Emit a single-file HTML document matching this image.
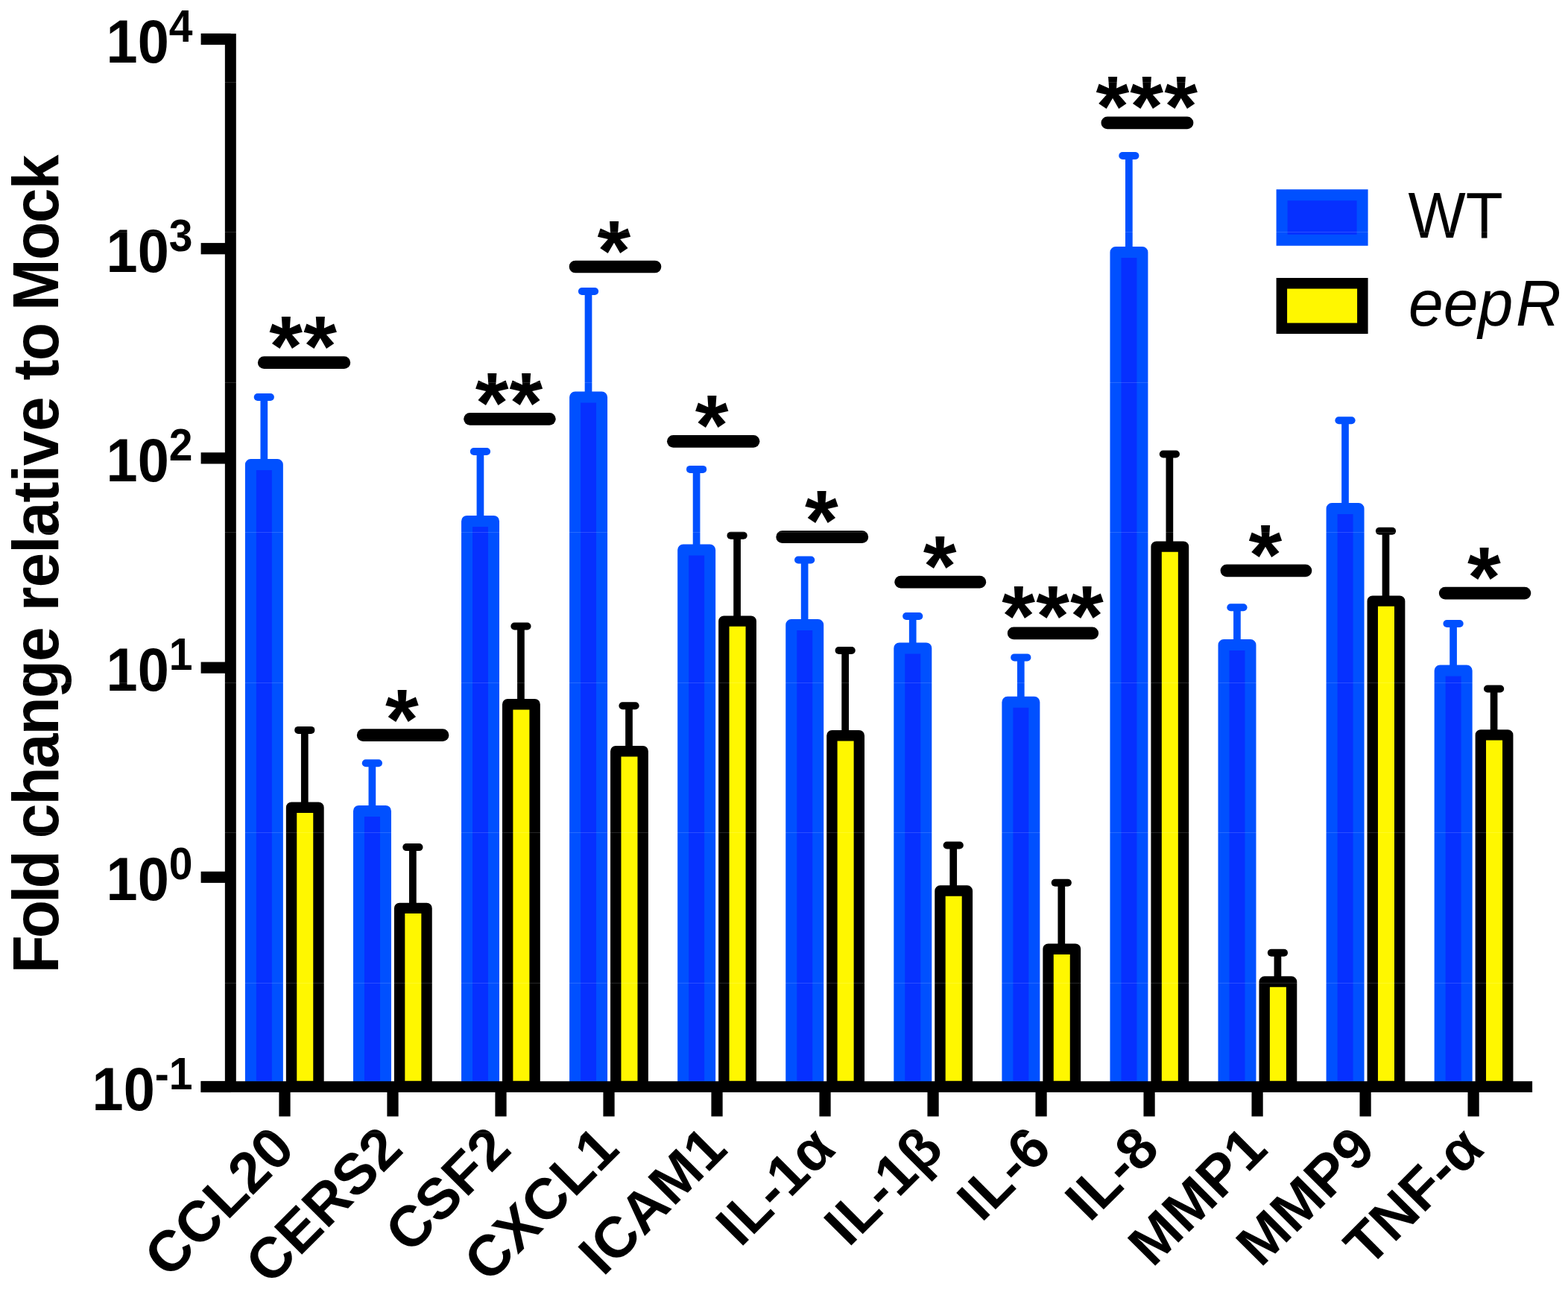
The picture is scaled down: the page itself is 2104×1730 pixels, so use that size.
<!DOCTYPE html><html><head><meta charset="utf-8"><title>Fold change relative to Mock</title>
<style>html,body{margin:0;padding:0;background:#fff;overflow:hidden;}svg{display:block;}#w{width:2104px;height:1730px;}text{font-family:"Liberation Sans",sans-serif;}</style></head><body>
<div id="w"><svg width="2104" height="1730" viewBox="0 0 2104 1730">
<rect width="2104" height="1730" fill="#fff"/>
<line x1="354.30" y1="618.00" x2="354.30" y2="533.00" stroke="#0050ff" stroke-width="9.7"/>
<line x1="345.70" y1="533.00" x2="362.90" y2="533.00" stroke="#0050ff" stroke-width="10.0" stroke-linecap="round"/>
<rect x="336.40" y="623.50" width="35.96" height="834.50" fill="#0630ff" stroke="#0050ff" stroke-width="15.0" stroke-linejoin="round"/>
<line x1="408.80" y1="1078.50" x2="408.80" y2="979.90" stroke="#000" stroke-width="9.7"/>
<line x1="400.20" y1="979.90" x2="417.40" y2="979.90" stroke="#000" stroke-width="10.0" stroke-linecap="round"/>
<rect x="391.05" y="1083.70" width="36.42" height="374.30" fill="#fff700" stroke="#000" stroke-width="14.4" stroke-linejoin="round"/>
<line x1="354.25" y1="486.70" x2="461.85" y2="486.70" stroke="#000" stroke-width="16.7" stroke-linecap="round"/>
<text x="383.65" y="504.12" font-size="115" font-weight="bold" text-anchor="middle">*</text>
<text x="429.55" y="504.12" font-size="115" font-weight="bold" text-anchor="middle">*</text>
<line x1="499.37" y1="1082.90" x2="499.37" y2="1024.20" stroke="#0050ff" stroke-width="9.7"/>
<line x1="490.77" y1="1024.20" x2="507.97" y2="1024.20" stroke="#0050ff" stroke-width="10.0" stroke-linecap="round"/>
<rect x="481.47" y="1088.40" width="35.96" height="369.60" fill="#0630ff" stroke="#0050ff" stroke-width="15.0" stroke-linejoin="round"/>
<line x1="553.87" y1="1213.70" x2="553.87" y2="1137.10" stroke="#000" stroke-width="9.7"/>
<line x1="545.27" y1="1137.10" x2="562.47" y2="1137.10" stroke="#000" stroke-width="10.0" stroke-linecap="round"/>
<rect x="536.12" y="1218.90" width="36.42" height="239.10" fill="#fff700" stroke="#000" stroke-width="14.4" stroke-linejoin="round"/>
<line x1="487.15" y1="986.70" x2="594.05" y2="986.70" stroke="#000" stroke-width="16.7" stroke-linecap="round"/>
<text x="539.40" y="1004.52" font-size="115" font-weight="bold" text-anchor="middle">*</text>
<line x1="644.44" y1="693.90" x2="644.44" y2="606.00" stroke="#0050ff" stroke-width="9.7"/>
<line x1="635.84" y1="606.00" x2="653.04" y2="606.00" stroke="#0050ff" stroke-width="10.0" stroke-linecap="round"/>
<rect x="626.54" y="699.40" width="35.96" height="758.60" fill="#0630ff" stroke="#0050ff" stroke-width="15.0" stroke-linejoin="round"/>
<line x1="698.94" y1="940.00" x2="698.94" y2="840.50" stroke="#000" stroke-width="9.7"/>
<line x1="690.34" y1="840.50" x2="707.54" y2="840.50" stroke="#000" stroke-width="10.0" stroke-linecap="round"/>
<rect x="681.19" y="945.20" width="36.42" height="512.80" fill="#fff700" stroke="#000" stroke-width="14.4" stroke-linejoin="round"/>
<line x1="630.55" y1="562.30" x2="737.35" y2="562.30" stroke="#000" stroke-width="16.7" stroke-linecap="round"/>
<text x="660.05" y="579.62" font-size="115" font-weight="bold" text-anchor="middle">*</text>
<text x="705.95" y="579.62" font-size="115" font-weight="bold" text-anchor="middle">*</text>
<line x1="789.51" y1="527.50" x2="789.51" y2="391.00" stroke="#0050ff" stroke-width="9.7"/>
<line x1="780.91" y1="391.00" x2="798.11" y2="391.00" stroke="#0050ff" stroke-width="10.0" stroke-linecap="round"/>
<rect x="771.61" y="533.00" width="35.96" height="925.00" fill="#0630ff" stroke="#0050ff" stroke-width="15.0" stroke-linejoin="round"/>
<line x1="844.01" y1="1003.00" x2="844.01" y2="947.20" stroke="#000" stroke-width="9.7"/>
<line x1="835.41" y1="947.20" x2="852.61" y2="947.20" stroke="#000" stroke-width="10.0" stroke-linecap="round"/>
<rect x="826.26" y="1008.20" width="36.42" height="449.80" fill="#fff700" stroke="#000" stroke-width="14.4" stroke-linejoin="round"/>
<line x1="772.05" y1="358.00" x2="878.95" y2="358.00" stroke="#000" stroke-width="16.7" stroke-linecap="round"/>
<text x="823.90" y="375.62" font-size="115" font-weight="bold" text-anchor="middle">*</text>
<line x1="934.58" y1="732.60" x2="934.58" y2="629.90" stroke="#0050ff" stroke-width="9.7"/>
<line x1="925.98" y1="629.90" x2="943.18" y2="629.90" stroke="#0050ff" stroke-width="10.0" stroke-linecap="round"/>
<rect x="916.68" y="738.10" width="35.96" height="719.90" fill="#0630ff" stroke="#0050ff" stroke-width="15.0" stroke-linejoin="round"/>
<line x1="989.08" y1="828.40" x2="989.08" y2="718.70" stroke="#000" stroke-width="9.7"/>
<line x1="980.48" y1="718.70" x2="997.68" y2="718.70" stroke="#000" stroke-width="10.0" stroke-linecap="round"/>
<rect x="971.33" y="833.60" width="36.42" height="624.40" fill="#fff700" stroke="#000" stroke-width="14.4" stroke-linejoin="round"/>
<line x1="903.35" y1="592.30" x2="1011.05" y2="592.30" stroke="#000" stroke-width="16.7" stroke-linecap="round"/>
<text x="955.20" y="609.92" font-size="115" font-weight="bold" text-anchor="middle">*</text>
<line x1="1079.65" y1="833.10" x2="1079.65" y2="751.50" stroke="#0050ff" stroke-width="9.7"/>
<line x1="1071.05" y1="751.50" x2="1088.25" y2="751.50" stroke="#0050ff" stroke-width="10.0" stroke-linecap="round"/>
<rect x="1061.75" y="838.60" width="35.96" height="619.40" fill="#0630ff" stroke="#0050ff" stroke-width="15.0" stroke-linejoin="round"/>
<line x1="1134.15" y1="982.00" x2="1134.15" y2="873.00" stroke="#000" stroke-width="9.7"/>
<line x1="1125.55" y1="873.00" x2="1142.75" y2="873.00" stroke="#000" stroke-width="10.0" stroke-linecap="round"/>
<rect x="1116.40" y="987.20" width="36.42" height="470.80" fill="#fff700" stroke="#000" stroke-width="14.4" stroke-linejoin="round"/>
<line x1="1049.65" y1="720.70" x2="1156.85" y2="720.70" stroke="#000" stroke-width="16.7" stroke-linecap="round"/>
<text x="1102.50" y="738.12" font-size="115" font-weight="bold" text-anchor="middle">*</text>
<line x1="1224.72" y1="864.40" x2="1224.72" y2="827.00" stroke="#0050ff" stroke-width="9.7"/>
<line x1="1216.12" y1="827.00" x2="1233.32" y2="827.00" stroke="#0050ff" stroke-width="10.0" stroke-linecap="round"/>
<rect x="1206.82" y="869.90" width="35.96" height="588.10" fill="#0630ff" stroke="#0050ff" stroke-width="15.0" stroke-linejoin="round"/>
<line x1="1279.22" y1="1190.30" x2="1279.22" y2="1134.50" stroke="#000" stroke-width="9.7"/>
<line x1="1270.62" y1="1134.50" x2="1287.82" y2="1134.50" stroke="#000" stroke-width="10.0" stroke-linecap="round"/>
<rect x="1261.47" y="1195.50" width="36.42" height="262.50" fill="#fff700" stroke="#000" stroke-width="14.4" stroke-linejoin="round"/>
<line x1="1208.65" y1="781.20" x2="1314.85" y2="781.20" stroke="#000" stroke-width="16.7" stroke-linecap="round"/>
<text x="1261.20" y="798.72" font-size="115" font-weight="bold" text-anchor="middle">*</text>
<line x1="1369.79" y1="936.80" x2="1369.79" y2="882.40" stroke="#0050ff" stroke-width="9.7"/>
<line x1="1361.19" y1="882.40" x2="1378.39" y2="882.40" stroke="#0050ff" stroke-width="10.0" stroke-linecap="round"/>
<rect x="1351.89" y="942.30" width="35.96" height="515.70" fill="#0630ff" stroke="#0050ff" stroke-width="15.0" stroke-linejoin="round"/>
<line x1="1424.29" y1="1268.50" x2="1424.29" y2="1184.80" stroke="#000" stroke-width="9.7"/>
<line x1="1415.69" y1="1184.80" x2="1432.89" y2="1184.80" stroke="#000" stroke-width="10.0" stroke-linecap="round"/>
<rect x="1406.54" y="1273.70" width="36.42" height="184.30" fill="#fff700" stroke="#000" stroke-width="14.4" stroke-linejoin="round"/>
<line x1="1360.15" y1="849.90" x2="1465.75" y2="849.90" stroke="#000" stroke-width="16.7" stroke-linecap="round"/>
<text x="1366.70" y="866.42" font-size="115" font-weight="bold" text-anchor="middle">*</text>
<text x="1412.60" y="866.42" font-size="115" font-weight="bold" text-anchor="middle">*</text>
<text x="1458.50" y="866.42" font-size="115" font-weight="bold" text-anchor="middle">*</text>
<line x1="1514.86" y1="333.10" x2="1514.86" y2="209.00" stroke="#0050ff" stroke-width="9.7"/>
<line x1="1506.26" y1="209.00" x2="1523.46" y2="209.00" stroke="#0050ff" stroke-width="10.0" stroke-linecap="round"/>
<rect x="1496.96" y="338.60" width="35.96" height="1119.40" fill="#0630ff" stroke="#0050ff" stroke-width="15.0" stroke-linejoin="round"/>
<line x1="1569.36" y1="728.40" x2="1569.36" y2="609.50" stroke="#000" stroke-width="9.7"/>
<line x1="1560.76" y1="609.50" x2="1577.96" y2="609.50" stroke="#000" stroke-width="10.0" stroke-linecap="round"/>
<rect x="1551.61" y="733.60" width="36.42" height="724.40" fill="#fff700" stroke="#000" stroke-width="14.4" stroke-linejoin="round"/>
<line x1="1485.85" y1="164.90" x2="1593.05" y2="164.90" stroke="#000" stroke-width="16.7" stroke-linecap="round"/>
<text x="1492.80" y="182.42" font-size="115" font-weight="bold" text-anchor="middle">*</text>
<text x="1538.70" y="182.42" font-size="115" font-weight="bold" text-anchor="middle">*</text>
<text x="1584.60" y="182.42" font-size="115" font-weight="bold" text-anchor="middle">*</text>
<line x1="1659.93" y1="860.00" x2="1659.93" y2="815.20" stroke="#0050ff" stroke-width="9.7"/>
<line x1="1651.33" y1="815.20" x2="1668.53" y2="815.20" stroke="#0050ff" stroke-width="10.0" stroke-linecap="round"/>
<rect x="1642.03" y="865.50" width="35.96" height="592.50" fill="#0630ff" stroke="#0050ff" stroke-width="15.0" stroke-linejoin="round"/>
<line x1="1714.43" y1="1312.30" x2="1714.43" y2="1278.80" stroke="#000" stroke-width="9.7"/>
<line x1="1705.83" y1="1278.80" x2="1723.03" y2="1278.80" stroke="#000" stroke-width="10.0" stroke-linecap="round"/>
<rect x="1696.68" y="1317.50" width="36.42" height="140.50" fill="#fff700" stroke="#000" stroke-width="14.4" stroke-linejoin="round"/>
<line x1="1645.95" y1="765.90" x2="1751.95" y2="765.90" stroke="#000" stroke-width="16.7" stroke-linecap="round"/>
<text x="1698.00" y="783.52" font-size="115" font-weight="bold" text-anchor="middle">*</text>
<line x1="1805.00" y1="677.10" x2="1805.00" y2="564.20" stroke="#0050ff" stroke-width="9.7"/>
<line x1="1796.40" y1="564.20" x2="1813.60" y2="564.20" stroke="#0050ff" stroke-width="10.0" stroke-linecap="round"/>
<rect x="1787.10" y="682.60" width="35.96" height="775.40" fill="#0630ff" stroke="#0050ff" stroke-width="15.0" stroke-linejoin="round"/>
<line x1="1859.50" y1="801.40" x2="1859.50" y2="712.70" stroke="#000" stroke-width="9.7"/>
<line x1="1850.90" y1="712.70" x2="1868.10" y2="712.70" stroke="#000" stroke-width="10.0" stroke-linecap="round"/>
<rect x="1841.75" y="806.60" width="36.42" height="651.40" fill="#fff700" stroke="#000" stroke-width="14.4" stroke-linejoin="round"/>
<line x1="1950.07" y1="894.50" x2="1950.07" y2="837.00" stroke="#0050ff" stroke-width="9.7"/>
<line x1="1941.47" y1="837.00" x2="1958.67" y2="837.00" stroke="#0050ff" stroke-width="10.0" stroke-linecap="round"/>
<rect x="1932.17" y="900.00" width="35.96" height="558.00" fill="#0630ff" stroke="#0050ff" stroke-width="15.0" stroke-linejoin="round"/>
<line x1="2004.57" y1="981.20" x2="2004.57" y2="924.50" stroke="#000" stroke-width="9.7"/>
<line x1="1995.97" y1="924.50" x2="2013.17" y2="924.50" stroke="#000" stroke-width="10.0" stroke-linecap="round"/>
<rect x="1986.82" y="986.40" width="36.42" height="471.60" fill="#fff700" stroke="#000" stroke-width="14.4" stroke-linejoin="round"/>
<line x1="1939.15" y1="796.10" x2="2045.95" y2="796.10" stroke="#000" stroke-width="16.7" stroke-linecap="round"/>
<text x="1991.40" y="813.62" font-size="115" font-weight="bold" text-anchor="middle">*</text>
<rect x="301.85" y="45.2" width="14.95" height="1420.8" fill="#000"/>
<rect x="269.6" y="1451.2" width="1786.5" height="14.8" fill="#000"/>
<rect x="269.6" y="44.90" width="40" height="15.2" fill="#000"/>
<rect x="269.6" y="326.10" width="40" height="15.2" fill="#000"/>
<rect x="269.6" y="607.30" width="40" height="15.2" fill="#000"/>
<rect x="269.6" y="888.50" width="40" height="15.2" fill="#000"/>
<rect x="269.6" y="1169.70" width="40" height="15.2" fill="#000"/>
<rect x="269.6" y="1450.90" width="40" height="15.2" fill="#000"/>
<rect x="374.40" y="1458" width="15.2" height="40.4" fill="#000"/>
<rect x="519.41" y="1458" width="15.2" height="40.4" fill="#000"/>
<rect x="664.42" y="1458" width="15.2" height="40.4" fill="#000"/>
<rect x="809.43" y="1458" width="15.2" height="40.4" fill="#000"/>
<rect x="954.44" y="1458" width="15.2" height="40.4" fill="#000"/>
<rect x="1099.45" y="1458" width="15.2" height="40.4" fill="#000"/>
<rect x="1244.46" y="1458" width="15.2" height="40.4" fill="#000"/>
<rect x="1389.47" y="1458" width="15.2" height="40.4" fill="#000"/>
<rect x="1534.48" y="1458" width="15.2" height="40.4" fill="#000"/>
<rect x="1679.49" y="1458" width="15.2" height="40.4" fill="#000"/>
<rect x="1824.50" y="1458" width="15.2" height="40.4" fill="#000"/>
<rect x="1969.51" y="1458" width="15.2" height="40.4" fill="#000"/>
<text transform="translate(258.5,83.50) scale(0.935,1)" font-size="81" font-weight="bold" text-anchor="end">10<tspan font-size="61" dy="-28">4</tspan></text>
<text transform="translate(258.5,364.70) scale(0.935,1)" font-size="81" font-weight="bold" text-anchor="end">10<tspan font-size="61" dy="-28">3</tspan></text>
<text transform="translate(258.5,645.90) scale(0.935,1)" font-size="81" font-weight="bold" text-anchor="end">10<tspan font-size="61" dy="-28">2</tspan></text>
<text transform="translate(258.5,927.10) scale(0.935,1)" font-size="81" font-weight="bold" text-anchor="end">10<tspan font-size="61" dy="-28">1</tspan></text>
<text transform="translate(258.5,1208.30) scale(0.935,1)" font-size="81" font-weight="bold" text-anchor="end">10<tspan font-size="61" dy="-28">0</tspan></text>
<text transform="translate(258.5,1489.50) scale(0.935,1)" font-size="81" font-weight="bold" text-anchor="end">10<tspan font-size="61" dy="-28">-1</tspan></text>
<g font-size="88" font-weight="bold">
<text transform="translate(77.6,1300.9) rotate(-90) scale(0.955,1)" x="-5.89" y="0" textLength="173.05" lengthAdjust="spacing">Fold</text>
<text transform="translate(77.6,1122.0) rotate(-90) scale(0.955,1)" x="-3.44" y="0" textLength="297.45" lengthAdjust="spacing">change</text>
<text transform="translate(77.6,814.7) rotate(-90) scale(0.955,1)" x="-5.80" y="0" textLength="301.48" lengthAdjust="spacing">relative</text>
<text transform="translate(77.6,509.5) rotate(-90) scale(0.955,1)" x="-1.07" y="0" textLength="81.16" lengthAdjust="spacing">to</text>
<text transform="translate(77.6,411.6) rotate(-90) scale(0.955,1)" x="-5.89" y="0" textLength="219.62" lengthAdjust="spacing">Mock</text>
</g>
<text transform="translate(398.60,1545.20) rotate(-45)" font-size="77" font-weight="bold" text-anchor="end">CCL20</text>
<text transform="translate(543.63,1545.20) rotate(-45)" font-size="77" font-weight="bold" text-anchor="end">CERS2</text>
<text transform="translate(688.66,1545.20) rotate(-45)" font-size="77" font-weight="bold" text-anchor="end">CSF2</text>
<text transform="translate(833.69,1545.20) rotate(-45)" font-size="77" font-weight="bold" text-anchor="end">CXCL1</text>
<text transform="translate(978.72,1545.20) rotate(-45)" font-size="77" font-weight="bold" text-anchor="end">ICAM1</text>
<text transform="translate(1123.75,1545.20) rotate(-45)" font-size="77" font-weight="bold" text-anchor="end">IL-1α</text>
<text transform="translate(1268.78,1545.20) rotate(-45)" font-size="77" font-weight="bold" text-anchor="end">IL-1β</text>
<text transform="translate(1413.81,1545.20) rotate(-45)" font-size="77" font-weight="bold" text-anchor="end">IL-6</text>
<text transform="translate(1558.84,1545.20) rotate(-45)" font-size="77" font-weight="bold" text-anchor="end">IL-8</text>
<text transform="translate(1703.87,1545.20) rotate(-45)" font-size="77" font-weight="bold" text-anchor="end">MMP1</text>
<text transform="translate(1848.90,1545.20) rotate(-45)" font-size="77" font-weight="bold" text-anchor="end">MMP9</text>
<text transform="translate(1993.93,1545.20) rotate(-45)" font-size="77" font-weight="bold" text-anchor="end">TNF-α</text>
<rect x="1720.1" y="261.7" width="108" height="60.599999999999994" fill="#0630ff" stroke="#0050ff" stroke-width="15"/>
<rect x="1719.85" y="380.25" width="108.5" height="60.5" fill="#fff700" stroke="#000" stroke-width="14.5"/>
<text transform="translate(1889.4,318.9) scale(0.93,1)" font-size="88">WT</text>
<text transform="translate(1890,437) scale(0.955,1)" font-size="88" font-style="italic">eep<tspan dx="4">R</tspan></text>
<rect x="0" y="110" width="2104" height="1" fill="#fff" fill-opacity="0.15"/>
<rect x="0" y="311" width="2104" height="1" fill="#fff" fill-opacity="0.15"/>
<rect x="0" y="513" width="2104" height="1" fill="#fff" fill-opacity="0.15"/>
<rect x="0" y="714" width="2104" height="1" fill="#fff" fill-opacity="0.15"/>
<rect x="0" y="916" width="2104" height="1" fill="#fff" fill-opacity="0.15"/>
<rect x="0" y="1117" width="2104" height="1" fill="#fff" fill-opacity="0.15"/>
<rect x="0" y="1319" width="2104" height="1" fill="#fff" fill-opacity="0.15"/>
<rect x="0" y="1520" width="2104" height="1" fill="#fff" fill-opacity="0.15"/>
</svg></div></body></html>
